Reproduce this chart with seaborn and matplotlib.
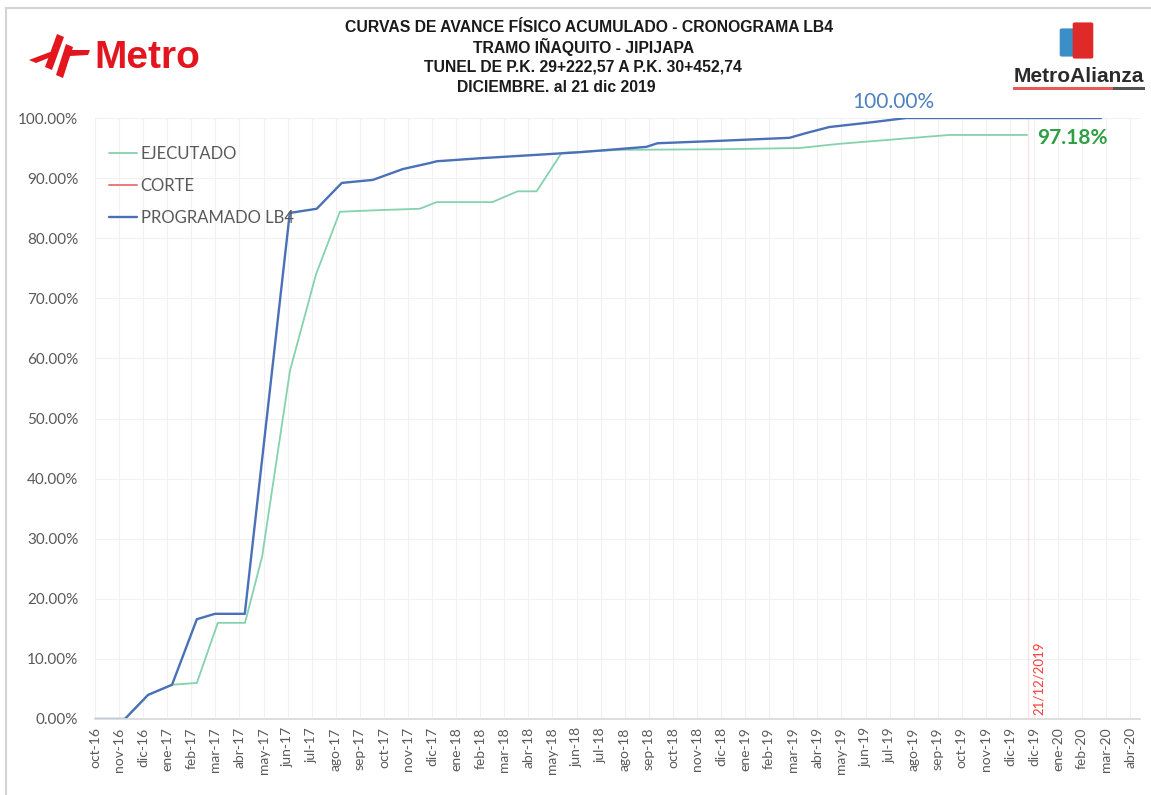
import matplotlib
matplotlib.use("Agg")
import matplotlib.pyplot as plt
import seaborn as sns
from matplotlib.patches import Polygon, Rectangle, FancyBboxPatch

# ---------------- data ----------------
categories = ["oct-16", "nov-16", "dic-16", "ene-17", "feb-17", "mar-17", "abr-17", "may-17",
              "jun-17", "jul-17", "ago-17", "sep-17", "oct-17", "nov-17", "dic-17", "ene-18",
              "feb-18", "mar-18", "abr-18", "may-18", "jun-18", "jul-18", "ago-18", "sep-18",
              "oct-18", "nov-18", "dic-18", "ene-19", "feb-19", "mar-19", "abr-19", "may-19",
              "jun-19", "jul-19", "ago-19", "sep-19", "oct-19", "nov-19", "dic-19", "dic-19",
              "ene-20", "feb-20", "mar-20", "abr-20"]

# positions measured in months since oct-16 (fractional = date inside the month)
prog_x = [0, 1.24, 2.2, 3.2, 4.23, 4.98, 6.22, 8.09, 9.21, 10.25, 11.54, 12.78, 13.9, 14.19,
          15.98, 18.05, 20.1, 22.9, 23.36, 25.93, 28.84, 29.54, 30.5, 32.28, 33.69, 41.78]
prog_y = [0, 0, 4.0, 5.7, 16.6, 17.5, 17.5, 84.2, 84.9, 89.2, 89.7, 91.5, 92.5, 92.8,
          93.3, 93.8, 94.3, 95.2, 95.8, 96.2, 96.7, 97.5, 98.5, 99.3, 100.0, 100.0]

ejec_x = [0, 1.24, 2.2, 3.2, 4.23, 5.1, 6.23, 6.94, 8.10, 9.18, 10.17, 11.99, 13.49, 14.19,
          16.5, 17.55, 18.34, 19.38, 21.78, 25.93, 29.25, 30.9, 35.48, 38.71]
ejec_y = [0, 0, 4.0, 5.7, 6.0, 16.0, 16.0, 27.0, 58.0, 74.0, 84.4, 84.7, 84.9, 86.0,
          86.0, 87.8, 87.8, 94.2, 94.7, 94.8, 95.0, 95.7, 97.18, 97.18]

corte_x = [38.75, 38.75]
corte_y = [0, 100]
corte_label = "21/12/2019"

yticks = [0, 10, 20, 30, 40, 50, 60, 70, 80, 90, 100]

title_lines = ["CURVAS DE AVANCE FÍSICO ACUMULADO - CRONOGRAMA LB4",
               "TRAMO IÑAQUITO - JIPIJAPA",
               "TUNEL DE P.K. 29+222,57 A P.K. 30+452,74",
               "DICIEMBRE. al 21 dic 2019"]

# ---------------- style ----------------
sns.set_theme(style="white")
plt.rcParams['font.family'] = ['Lato', 'DejaVu Sans']

W, H = 1151, 795
fig = plt.figure(figsize=(W / 100, H / 100), dpi=100)
fig.patch.set_facecolor("white")

def fx(px):
    return px / W

def fy(py):
    return 1 - py / H

ax = fig.add_axes([fx(95), fy(719), fx(1140) - fx(95), fy(118) - fy(719)])

GREEN = "#86d1ae"
BLUE = "#4a70b8"
RED = "#ec7a7a"

sns.lineplot(x=ejec_x, y=ejec_y, ax=ax, color=GREEN, linewidth=1.3, sort=False, label="EJECUTADO")
sns.lineplot(x=corte_x, y=corte_y, ax=ax, color=RED, linewidth=1.4, sort=False, label="CORTE")
sns.lineplot(x=prog_x, y=prog_y, ax=ax, color=BLUE, linewidth=1.7, sort=False, label="PROGRAMADO LB4")

ax.set_xlim(0, 43.4)
ax.set_ylim(0, 100)
ax.set_xticks(range(len(categories)))
ax.set_xticklabels(categories, rotation=90, fontsize=10, color="#595959")
ax.set_yticks(yticks)
ax.set_yticklabels([f"{v:.2f}%" for v in yticks], fontsize=11, color="#595959")
ax.tick_params(axis="x", length=0, pad=6)
ax.tick_params(axis="y", length=0, pad=12)
ax.set_xlabel("")
ax.set_ylabel("")
ax.grid(True, color="#f1f1f1", linewidth=0.8)
for s in ["top", "right", "left"]:
    ax.spines[s].set_visible(False)
ax.spines["bottom"].set_color("#d9d9d9")

leg = ax.legend(loc="upper left", bbox_to_anchor=(-0.001, 0.978), frameon=False, fontsize=12,
                handlelength=1.7, handletextpad=0.2, labelspacing=0.95)
for t in leg.get_texts():
    t.set_color("#595959")

# annotations
ax.text(prog_x[-2] - 0.55, 102.7, f"{prog_y[-1]:.2f}%", color="#4f81bd", fontsize=15,
        ha="center", va="center", clip_on=False)
ax.text(ejec_x[-1] + 1.9, 96.6, f"{ejec_y[-1]:.2f}%", color="#2ea043", fontsize=15,
        fontweight="bold", ha="center", va="center", clip_on=False)
ax.text(corte_x[0] + 0.45, 0.6, corte_label, color="#ff3b3b", fontsize=9.5, rotation=90,
        ha="center", va="bottom")

# title (each line centred where it sits in the original)
title_cx = [589, 584, 583, 556]
title_cy = [28, 47, 67, 87]
for line, cx, cy in zip(title_lines, title_cx, title_cy):
    fig.text(fx(cx), fy(cy), line, ha="center", va="center", fontsize=11.3,
             fontweight="bold", color="#1a1a1a", family=["Liberation Sans", "DejaVu Sans"])

# frame
fig.patches.append(Rectangle((fx(6), fy(800)), fx(1160), fy(8) - fy(800), transform=fig.transFigure,
                             fill=False, edgecolor="#d4d4d4", linewidth=1.5))

# Metro logo
MRED = "#e3161f"
def poly(pts, color):
    fig.patches.append(Polygon([(fx(a), fy(b)) for a, b in pts], closed=True, transform=fig.transFigure,
                               facecolor=color, edgecolor="none"))
poly([(29, 60), (50, 52), (56, 55), (36, 63)], MRED)
poly([(57, 34), (64, 37), (52, 70), (45, 67)], MRED)
poly([(66, 44), (73, 47), (63, 78), (56, 75)], MRED)
poly([(68, 50), (90, 50), (88, 55), (70, 56)], MRED)
fig.text(fx(94), fy(58), "Metro", color=MRED, fontsize=28, fontweight="bold", ha="left", va="center",
         family=["Liberation Sans", "DejaVu Sans"])

# MetroAlianza logo
fig.patches.append(FancyBboxPatch((fx(1062), fy(55)), fx(14), fy(30) - fy(55),
                                  boxstyle="round,pad=0.002", transform=fig.transFigure,
                                  facecolor="#3b8fc7", edgecolor="none"))
fig.patches.append(FancyBboxPatch((fx(1075), fy(57)), fx(16), fy(24) - fy(57),
                                  boxstyle="round,pad=0.002", transform=fig.transFigure,
                                  facecolor="#e02a2a", edgecolor="none"))
fig.text(fx(1079), fy(76), "MetroAlianza", color="#2b2b2b", fontsize=15, fontweight="bold",
         ha="center", va="center", family=["Liberation Sans", "DejaVu Sans"])
fig.patches.append(Rectangle((fx(1013), fy(90)), fx(100), fy(87) - fy(90), transform=fig.transFigure,
                             facecolor="#e85a5a", edgecolor="none"))
fig.patches.append(Rectangle((fx(1113), fy(90)), fx(32), fy(87) - fy(90), transform=fig.transFigure,
                             facecolor="#555555", edgecolor="none"))

fig.savefig("out.png", dpi=100, facecolor="white")
